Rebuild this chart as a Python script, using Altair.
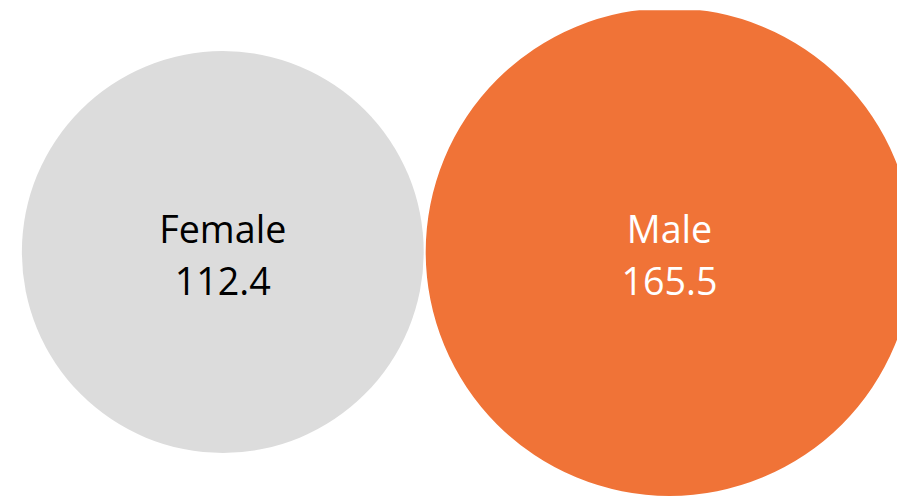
import math
import altair as alt
import pandas as pd

# data
categories = ["Female", "Male"]
values = [112.4, 165.5]
labels = ["112.4", "165.5"]

# style / layout constants
fill_colors = ["#DCDCDC", "#F07337"]
text_colors = ["#000000", "#FFFFFF"]
max_radius = 246.0       # radius (px) of the largest bubble
left_pad = 14.0          # chart-space offset of first bubble's left edge
gap = 2.0
W, H = 897, 491

vmax = max(values)
radii = [max_radius * math.sqrt(v / vmax) for v in values]
centers = []
pos = left_pad
for r in radii:
    centers.append(pos + r)
    pos += 2 * r + gap

df = pd.DataFrame({
    "category": categories,
    "value": values,
    "label": labels,
    "cx": centers,
})

xscale = alt.Scale(domain=[0, W], range=[0, W], nice=False, zero=False)
# Vega symbol size = (diameter)^2
size_scale = alt.Scale(domain=[0, vmax], range=[0, (2 * max_radius) ** 2], zero=True)

base = alt.Chart(df)

bubbles = base.mark_circle(opacity=1, clip=True).encode(
    x=alt.X("cx:Q", scale=xscale, axis=None),
    y=alt.value(244),
    size=alt.Size("value:Q", scale=size_scale, legend=None),
    color=alt.Color("category:N", scale=alt.Scale(domain=categories, range=fill_colors), legend=None),
)

names = base.mark_text(font="Open Sans", fontSize=38, baseline="alphabetic", align="center").encode(
    x=alt.X("cx:Q", scale=xscale, axis=None),
    y=alt.value(235),
    text="category:N",
    color=alt.Color("category:N", scale=alt.Scale(domain=categories, range=text_colors), legend=None),
)

nums = base.mark_text(font="Open Sans", fontSize=38, baseline="alphabetic", align="center").encode(
    x=alt.X("cx:Q", scale=xscale, axis=None),
    y=alt.value(287),
    text="label:N",
    color=alt.Color("category:N", scale=alt.Scale(domain=categories, range=text_colors), legend=None),
)

chart = alt.layer(bubbles, names, nums).resolve_scale(color="independent").properties(
    width=W, height=H, padding=0, autosize="none"
).configure_view(stroke=None)

chart.save("out.html", embed_options={"renderer": "svg", "actions": False})
